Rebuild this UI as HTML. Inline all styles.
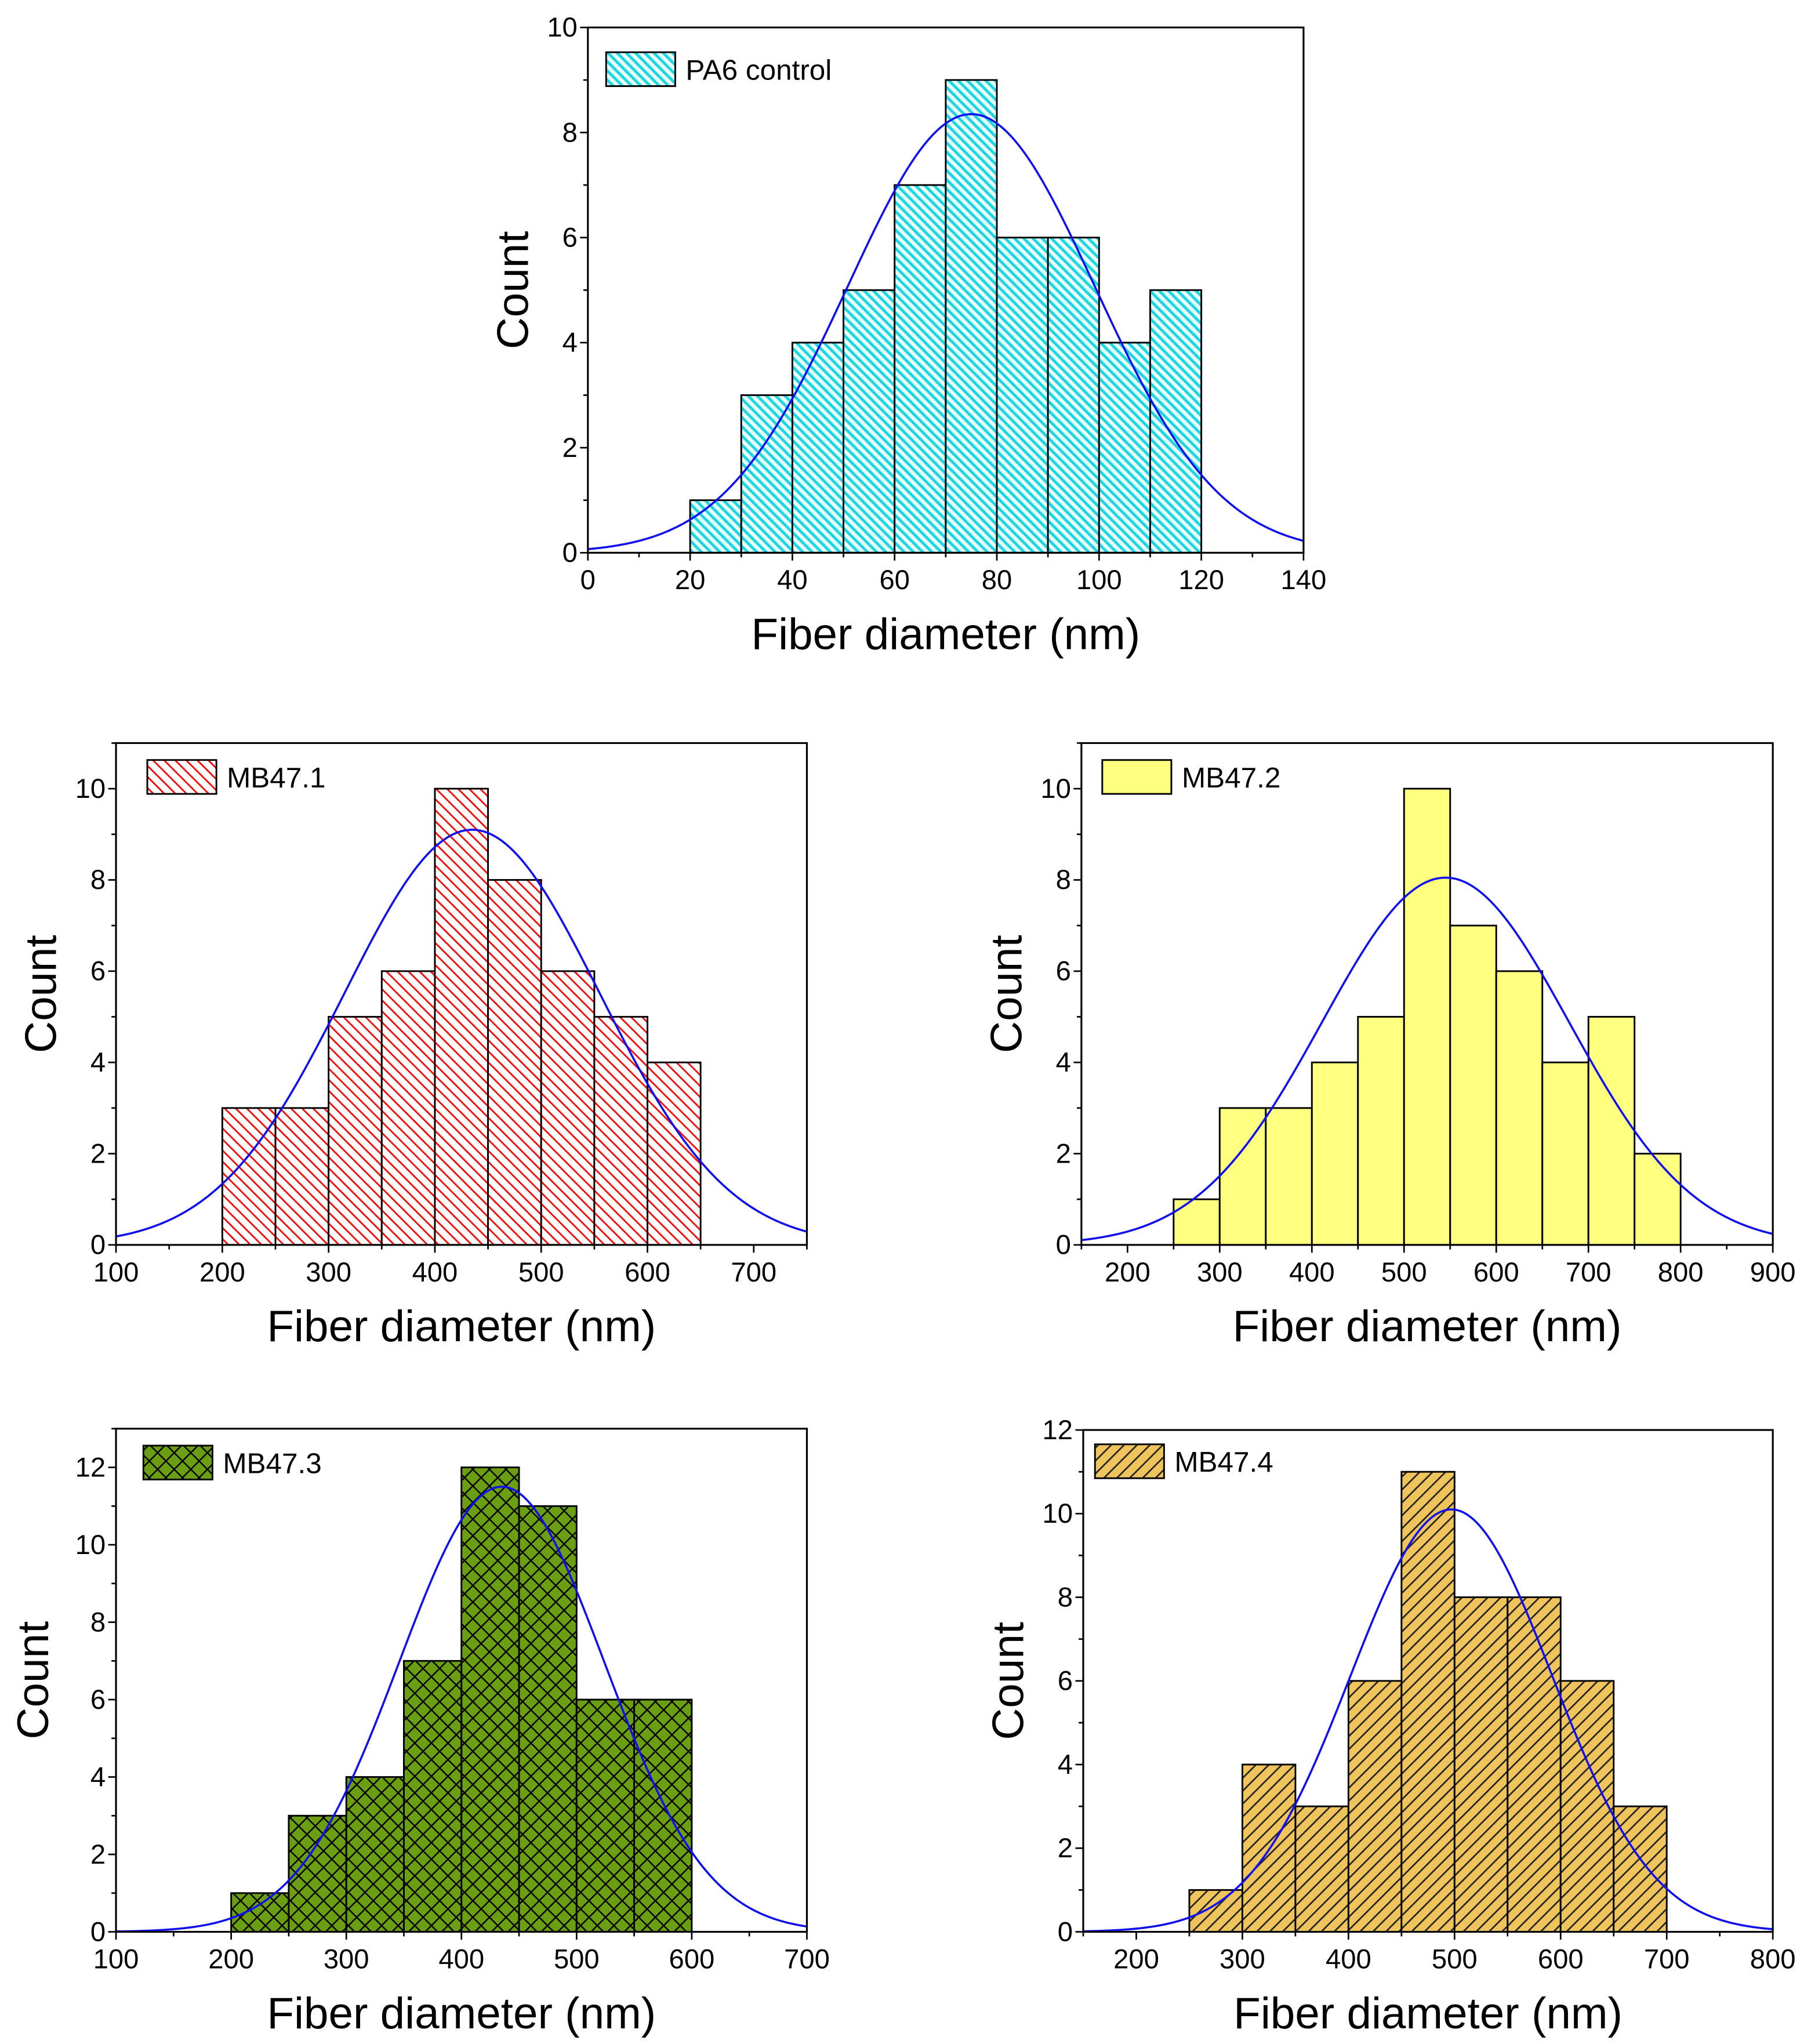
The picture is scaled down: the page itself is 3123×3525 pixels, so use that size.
<!DOCTYPE html>
<html><head><meta charset="utf-8"><style>
html,body{margin:0;padding:0;background:#fff}
svg{display:block}
text{font-family:"Liberation Sans",Arial,sans-serif}
</style></head><body>
<svg id="fig" xmlns="http://www.w3.org/2000/svg" width="3123" height="3525" viewBox="0 0 1389.3 1568">
<defs>
<pattern id="hCyan" patternUnits="userSpaceOnUse" width="5" height="5" patternTransform="rotate(-45)"><rect width="5" height="5" fill="#e8ffff"/><rect width="2.2" height="5" fill="#1fd6e0"/></pattern>
<pattern id="hRed" patternUnits="userSpaceOnUse" width="6" height="6" patternTransform="rotate(-45)"><rect width="6" height="6" fill="#fff"/><rect width="1.3" height="6" fill="#f01010"/></pattern>
<pattern id="hGreen" patternUnits="userSpaceOnUse" width="9" height="9" patternTransform="rotate(45)"><rect width="9" height="9" fill="#6b9e12"/><rect width="1.1" height="9" fill="#000"/><rect width="9" height="1.1" fill="#000"/></pattern>
<pattern id="hTan" patternUnits="userSpaceOnUse" width="7" height="7" patternTransform="rotate(45)"><rect width="7" height="7" fill="#f0c45c"/><rect width="1.2" height="7" fill="#222"/></pattern>
</defs>
</svg>
<script>
const pa6Bins=[20,30,40,50,60,70,80,90,100,110];
const pa6Counts=[1,3,4,5,7,9,6,6,4,5];
const pa6Fit=[8.35,75,24.2];
const mb1Bins=[200,250,300,350,400,450,500,550,600];
const mb1Counts=[3,3,5,6,10,8,6,5,4];
const mb1Fit=[9.1,435,120];
const mb2Bins=[250,300,350,400,450,500,550,600,650,700,750];
const mb2Counts=[1,3,3,4,5,10,7,6,4,5,2];
const mb2Fit=[8.05,545,134];
const mb3Bins=[200,250,300,350,400,450,500,550];
const mb3Counts=[1,3,4,7,12,11,6,6];
const mb3Fit=[11.5,435,89];
const mb4Bins=[250,300,350,400,450,500,550,600,650];
const mb4Counts=[1,4,3,6,11,8,8,6,3];
const mb4Fit=[10.1,497,95];
const pa6XTicks=[0,20,40,60,80,100,120,140];
const mb1XTicks=[100,200,300,400,500,600,700];
const mb2XTicks=[200,300,400,500,600,700,800,900];
const mb3XTicks=[100,200,300,400,500,600,700];
const mb4XTicks=[200,300,400,500,600,700,800];

const NS="http://www.w3.org/2000/svg";
const svg=document.getElementById('fig');
function mk(tag,attrs,parent){const e=document.createElementNS(NS,tag);for(const k in attrs)e.setAttribute(k,attrs[k]);(parent||svg).appendChild(e);return e;}

function chart(o){
  const g=mk('g',{});
  
  
  const X=v=>o.x0+(v-o.xmin)/(o.xmax-o.xmin)*(o.x1-o.x0);
  const Y=v=>o.y1-(v-o.ymin)/(o.ymax-o.ymin)*(o.y1-o.y0);
  o.bins.forEach((b,i)=>{
    const r=mk('rect',{x:X(b),y:Y(o.counts[i]),width:X(b+o.bw)-X(b),height:Y(0)-Y(o.counts[i]),fill:o.fill,stroke:'#000','stroke-width':1.3},g);
    
    
  });
  let d='';
  for(let i=0;i<=300;i++){const v=o.xmin+(o.xmax-o.xmin)*i/300;const y=o.fit[0]*Math.exp(-Math.pow(v-o.fit[1],2)/(2*o.fit[2]*o.fit[2]));d+=(i?'L':'M')+X(v).toFixed(2)+','+Y(y).toFixed(2);}
  const p=mk('path',{d:d,fill:'none',stroke:'#1010ee','stroke-width':1.6},g);
  
  
  const f=mk('rect',{x:o.x0,y:o.y0,width:o.x1-o.x0,height:o.y1-o.y0,fill:'none',stroke:'#000','stroke-width':1.4},g);
  
  
  const xt=o.xticks, step=xt[1]-xt[0];
  for(let v=o.xmin;v<=o.xmax+1e-9;v+=step/2){
    const major=xt.some(t=>Math.abs(t-v)<1e-9);
    mk('line',{x1:X(v),x2:X(v),y1:o.y1,y2:o.y1+(major?6:3.5),stroke:'#000','stroke-width':1.2},g);
  }
  xt.forEach(t=>{const tx=mk('text',{x:X(t),y:o.y1+28,'font-size':21,'text-anchor':'middle'},g);tx.textContent=t;
    
    });
  for(let v=o.ymin;v<=o.ymax+1e-9;v+=1){
    const major=v%2===0;
    mk('line',{x1:o.x0,x2:o.x0-(major?6:3.5),y1:Y(v),y2:Y(v),stroke:'#000','stroke-width':1.2},g);
    if(major){const ty=mk('text',{x:o.x0-8,y:Y(v)+7,'font-size':21,'text-anchor':'end'},g);ty.textContent=v;
      
      }
  }
  const xtT=mk('text',{x:(o.x0+o.x1)/2,y:o.y1+74,'font-size':34,'text-anchor':'middle'},g);xtT.textContent='Fiber diameter (nm)';
  
  
  const cy=(o.y0+o.y1)/2, cx=o.x0-o.ytitleOff;
  const ytT=mk('text',{x:cx,y:cy,'font-size':34,'text-anchor':'middle',transform:`rotate(-90 ${cx} ${cy})`},g);ytT.textContent='Count';
  
  
  const lg=mk('g',{},g);
  
  
  mk('rect',{x:o.x0+o.lgx,y:o.y0+o.lgy,width:53,height:26,fill:o.fill,stroke:'#000','stroke-width':1.3},lg);
  const lt=mk('text',{x:o.x0+o.lgx+61,y:o.y0+o.lgy+21,'font-size':22},lg);lt.textContent=o.label;
}
chart({name:'pa6-control-histogram',x0:451,x1:1000,y0:21,y1:424,xmin:0,xmax:140,ymin:0,ymax:10,bins:pa6Bins,counts:pa6Counts,bw:10,fit:pa6Fit,xticks:pa6XTicks,fill:'url(#hCyan)',label:'PA6 control',ytitleOff:46,lgx:14,lgy:19});
chart({name:'mb47-1-histogram',x0:89,x1:619,y0:570,y1:955,xmin:100,xmax:750,ymin:0,ymax:11,bins:mb1Bins,counts:mb1Counts,bw:50,fit:mb1Fit,xticks:mb1XTicks,fill:'url(#hRed)',label:'MB47.1',ytitleOff:46,lgx:24,lgy:13});
chart({name:'mb47-2-histogram',x0:829.6,x1:1360,y0:570,y1:955,xmin:150,xmax:900,ymin:0,ymax:11,bins:mb2Bins,counts:mb2Counts,bw:50,fit:mb2Fit,xticks:mb2XTicks,fill:'#ffff80',label:'MB47.2',ytitleOff:46,lgx:16,lgy:13});
chart({name:'mb47-3-histogram',x0:89,x1:619,y0:1096,y1:1482,xmin:100,xmax:700,ymin:0,ymax:13,bins:mb3Bins,counts:mb3Counts,bw:50,fit:mb3Fit,xticks:mb3XTicks,fill:'url(#hGreen)',label:'MB47.3',ytitleOff:52,lgx:21,lgy:13});
chart({name:'mb47-4-histogram',x0:831,x1:1360,y0:1097,y1:1482,xmin:150,xmax:800,ymin:0,ymax:12,bins:mb4Bins,counts:mb4Counts,bw:50,fit:mb4Fit,xticks:mb4XTicks,fill:'url(#hTan)',label:'MB47.4',ytitleOff:46,lgx:9,lgy:11});
</script>
</body></html>
